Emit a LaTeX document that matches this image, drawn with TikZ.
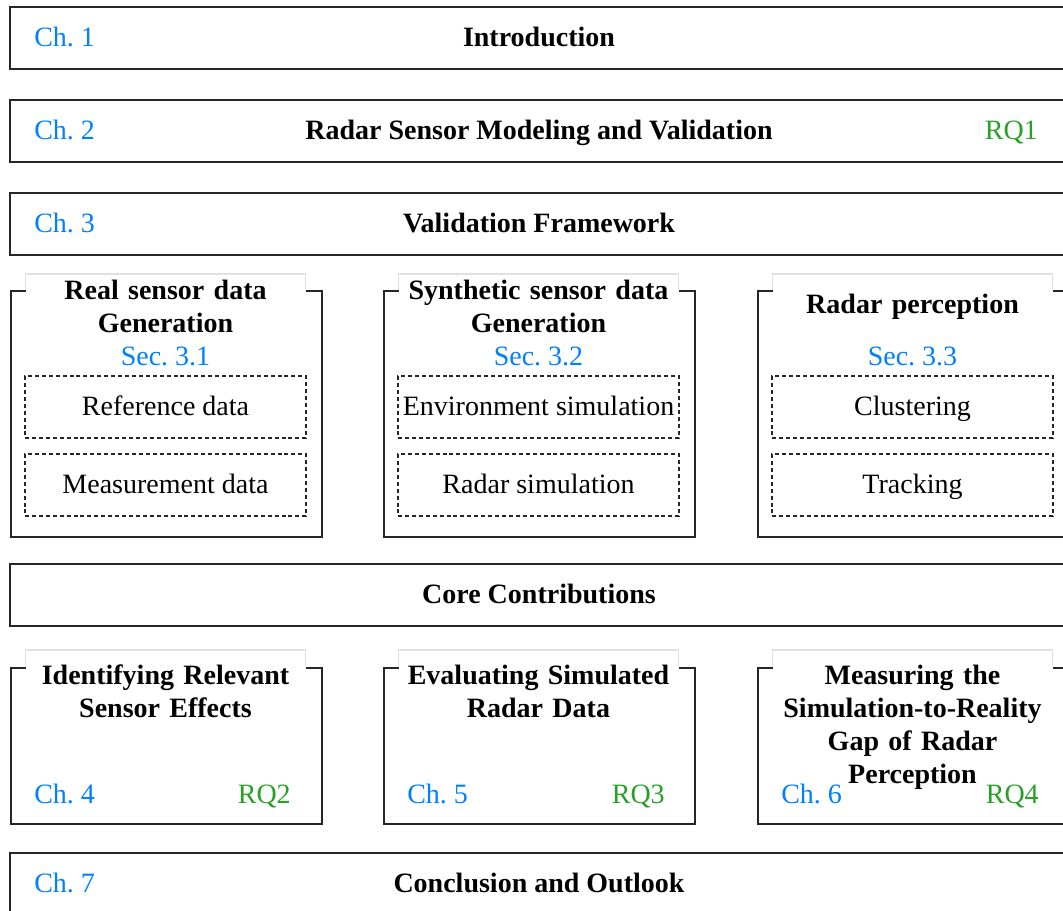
\documentclass[tikz,border=0pt]{standalone}
\usepackage{fontspec}
\setmainfont{Liberation Serif}
\usepackage{tikz}

\begin{document}
\frenchspacing
\fontsize{21}{24.75}\selectfont
\begin{tikzpicture}[x=0.75pt,y=-0.75pt,
	oneline/.style={text height=0.7em,text depth=0.12em},
	wide/.style={draw=black!85,line width=1.3pt,minimum width=1058*0.75pt,minimum height=62*0.75pt,inner sep=0pt,oneline,font=\bfseries},
	part/.style={draw=black!85,line width=1.3pt,minimum width=311*0.75pt,minimum height=#1*0.75pt,inner sep=0pt,anchor=north west},
	headtop/.style={fill=white,text width=280*0.75pt,minimum height=64*0.75pt,inner sep=0pt,align=center,font=\bfseries,anchor=north},
	headlow/.style={fill=white,text width=280*0.75pt,inner xsep=0pt,inner ysep=15*0.75pt,align=center,font=\bfseries,anchor=north},
	headedge/.style={draw=black!12,line width=0.8pt},
	item/.style={draw=black!85,line width=0.9pt,dash pattern=on 3pt off 2.2pt,minimum width=281*0.75pt,minimum height=62*0.75pt,inner sep=0pt,oneline},
	chap/.style={text=chapblue,anchor=west,inner sep=0pt,oneline},
	rq/.style={text=rqgreen,anchor=east,inner sep=0pt,oneline},
	sec/.style={text=chapblue,inner sep=0pt,oneline}]
  \definecolor{chapblue}{RGB}{0,127,255}
  \definecolor{rqgreen}{RGB}{40,160,40}
	\useasboundingbox (0,0) rectangle (1063,910);
	\clip (0,0) rectangle (1063,910);

	\node [wide] (intro) at (539,38) {Introduction};
	\node [chap] (ch1) at (34,38) {Ch. 1};

	\node [wide] (model) at (539,131) {Radar Sensor Modeling and Validation};
	\node [chap] (ch2) at (34,131) {Ch. 2};
	\node [rq] (rq1) at (1038,131) {RQ1};

	\node [wide] (frame) at (539,224) {Validation Framework};
	\node [chap] (ch3) at (34,224) {Ch. 3};

	\node [part=246] (real) at (10,290) {};
	\node [headtop] (realhead) at (165.5,274) {Real sensor data\\Generation};
	\draw [headedge] (realhead.north west |- real.north) -- (realhead.north west) -- (realhead.north east) -- (realhead.north east |- real.north);
	\node [sec] (sec1) at (165.5,357) {Sec. 3.1};
	\node [item] (refdata) at (165.5,407) {Reference data};
	\node [item] (measdata) at (165.5,485) {Measurement data};

	\node [part=246] (synth) at (383,290) {};
	\node [headtop] (synthhead) at (538.5,274) {Synthetic sensor data\\Generation};
	\draw [headedge] (synthhead.north west |- synth.north) -- (synthhead.north west) -- (synthhead.north east) -- (synthhead.north east |- synth.north);
	\node [sec] (sec2) at (538.5,357) {Sec. 3.2};
	\node [item] (envsim) at (538.5,407) {Environment simulation};
	\node [item] (radsim) at (538.5,485) {Radar simulation};

	\node [part=246] (percep) at (757,290) {};
	\node [headtop] (percephead) at (912.5,274) {Radar perception};
	\draw [headedge] (percephead.north west |- percep.north) -- (percephead.north west) -- (percephead.north east) -- (percephead.north east |- percep.north);
	\node [sec] (sec3) at (912.5,357) {Sec. 3.3};
	\node [item] (cluster) at (912.5,407) {Clustering};
	\node [item] (track) at (912.5,485) {Tracking};

	\node [wide] (core) at (539,595) {Core Contributions};

	\node [part=156] (effects) at (10,667) {};
	\node [headlow] (effectshead) at (165.5,650) {Identifying Relevant\\Sensor Effects};
	\draw [headedge] (effectshead.north west |- effects.north) -- (effectshead.north west) -- (effectshead.north east) -- (effectshead.north east |- effects.north);
	\node [chap] (ch4) at (34,795) {Ch. 4};
	\node [rq] (rq2) at (291,795) {RQ2};

	\node [part=156] (evalsim) at (383,667) {};
	\node [headlow] (evalsimhead) at (538.5,650) {Evaluating Simulated\\Radar Data};
	\draw [headedge] (evalsimhead.north west |- evalsim.north) -- (evalsimhead.north west) -- (evalsimhead.north east) -- (evalsimhead.north east |- evalsim.north);
	\node [chap] (ch5) at (407,795) {Ch. 5};
	\node [rq] (rq3) at (665,795) {RQ3};

	\node [part=156] (gap) at (757,667) {};
	\node [headlow] (gaphead) at (912.5,650) {Measuring the\\Simulation-to-Reality\\Gap of Radar\\Perception};
	\draw [headedge] (gaphead.north west |- gap.north) -- (gaphead.north west) -- (gaphead.north east) -- (gaphead.north east |- gap.north);
	\node [chap] (ch6) at (781,795) {Ch. 6};
	\node [rq] (rq4) at (1039,795) {RQ4};

	\node [wide] (concl) at (539,884) {Conclusion and Outlook};
	\node [chap] (ch7) at (34,884) {Ch. 7};
\end{tikzpicture}
\end{document}
